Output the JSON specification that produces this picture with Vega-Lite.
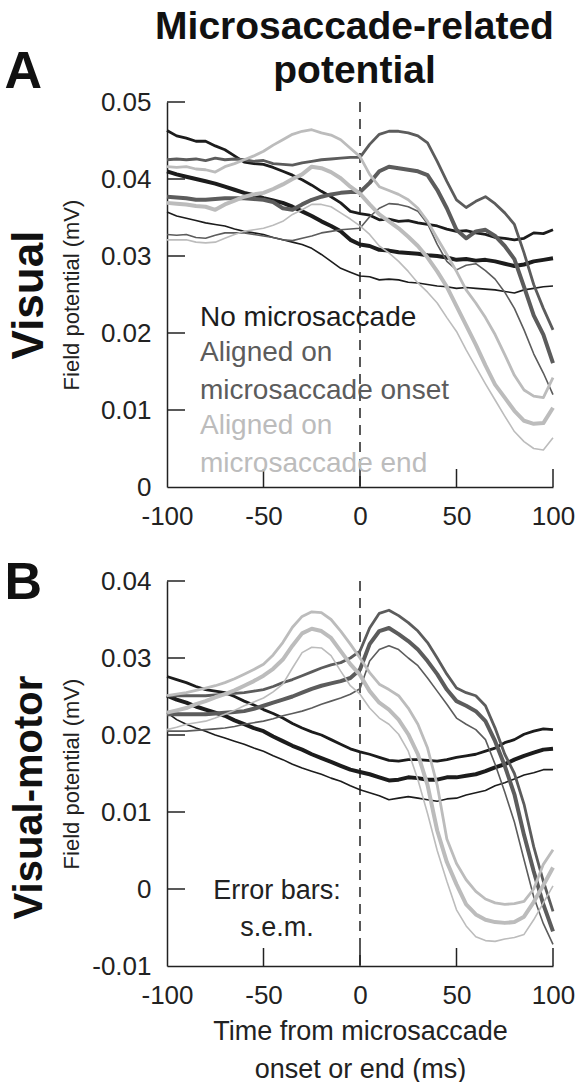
{
  "$schema": "https://vega.github.io/schema/vega-lite/v6.json",
  "background": "white",
  "padding": {"left": 4, "top": 7, "right": 0, "bottom": 0},
  "config": {
    "font": "Liberation Sans",
    "view": {"stroke": null},
    "axis": {"grid": false, "domainColor": "#222", "domainWidth": 1.5, "ticks": false, "tickSize": 0, "labelFont": "Liberation Sans", "labelFontSize": 26, "labelColor": "#222", "labelOverlap": false, "labelFlush": false, "labelBound": false, "titleFont": "Liberation Sans", "titleFontWeight": "normal", "titleColor": "#222"},
    "rule": {"color": "#222", "strokeWidth": 1.5}
  },
  "datasets": {
    "a": [
      {"c": "No microsaccade", "s": "u", "t": [-100,-95,-90,-85,-80,-75,-70,-65,-60,-55,-50,-45,-40,-35,-30,-25,-20,-15,-10,-5,0,5,10,15,20,25,30,35,40,45,50,55,60,65,70,75,80,85,90,95,100], "v": [0.0463,0.0456,0.0453,0.0449,0.0449,0.0443,0.0438,0.043,0.0422,0.042,0.0419,0.0415,0.041,0.0405,0.0399,0.0392,0.0384,0.0377,0.0369,0.0358,0.0355,0.0353,0.0347,0.0348,0.0345,0.0346,0.0343,0.0341,0.0339,0.0335,0.0332,0.0333,0.033,0.0328,0.0324,0.0323,0.0321,0.0323,0.033,0.0329,0.0334]},
      {"c": "No microsaccade", "s": "m", "t": [-100,-95,-90,-85,-80,-75,-70,-65,-60,-55,-50,-45,-40,-35,-30,-25,-20,-15,-10,-5,0,5,10,15,20,25,30,35,40,45,50,55,60,65,70,75,80,85,90,95,100], "v": [0.041,0.0406,0.0403,0.04,0.0397,0.0394,0.039,0.0386,0.0382,0.0379,0.0375,0.0372,0.0369,0.0364,0.0358,0.0352,0.0345,0.0339,0.0332,0.0321,0.0315,0.0313,0.0308,0.0307,0.0305,0.0304,0.0303,0.0301,0.03,0.0298,0.0295,0.0296,0.0294,0.0295,0.0293,0.029,0.0287,0.0289,0.0293,0.0295,0.0297]},
      {"c": "No microsaccade", "s": "l", "t": [-100,-95,-90,-85,-80,-75,-70,-65,-60,-55,-50,-45,-40,-35,-30,-25,-20,-15,-10,-5,0,5,10,15,20,25,30,35,40,45,50,55,60,65,70,75,80,85,90,95,100], "v": [0.0357,0.0352,0.0349,0.0346,0.0343,0.0341,0.0339,0.0335,0.0332,0.033,0.0328,0.0324,0.0321,0.0318,0.0315,0.031,0.0302,0.0293,0.0284,0.0279,0.0274,0.0273,0.0269,0.027,0.0269,0.0266,0.0265,0.0263,0.0261,0.026,0.0258,0.0259,0.0258,0.0257,0.0256,0.0254,0.0252,0.0256,0.0258,0.026,0.0261]},
      {"c": "Aligned on microsaccade onset", "s": "u", "t": [-100,-95,-90,-85,-80,-75,-70,-65,-60,-55,-50,-45,-40,-35,-30,-25,-20,-15,-10,-5,0,5,10,15,20,25,30,35,40,45,50,55,60,65,70,75,80,85,90,95,100], "v": [0.0425,0.0426,0.0425,0.0426,0.0424,0.0427,0.0425,0.0426,0.0425,0.0423,0.0424,0.042,0.0419,0.0418,0.0421,0.0423,0.0425,0.0426,0.0427,0.0428,0.0428,0.0445,0.0458,0.0462,0.0462,0.046,0.0456,0.0447,0.0423,0.0397,0.0373,0.0363,0.0371,0.0377,0.0368,0.0356,0.0341,0.0304,0.0263,0.0232,0.0204]},
      {"c": "Aligned on microsaccade onset", "s": "m", "t": [-100,-95,-90,-85,-80,-75,-70,-65,-60,-55,-50,-45,-40,-35,-30,-25,-20,-15,-10,-5,0,5,10,15,20,25,30,35,40,45,50,55,60,65,70,75,80,85,90,95,100], "v": [0.0377,0.0376,0.0375,0.0373,0.0373,0.0374,0.0375,0.0375,0.0375,0.0374,0.0373,0.037,0.0362,0.036,0.0367,0.0373,0.0377,0.038,0.0382,0.0383,0.0383,0.0395,0.041,0.0416,0.0414,0.0412,0.041,0.0405,0.0386,0.0362,0.0334,0.0323,0.0332,0.0334,0.0326,0.0313,0.0296,0.026,0.0223,0.0198,0.0161]},
      {"c": "Aligned on microsaccade onset", "s": "l", "t": [-100,-95,-90,-85,-80,-75,-70,-65,-60,-55,-50,-45,-40,-35,-30,-25,-20,-15,-10,-5,0,5,10,15,20,25,30,35,40,45,50,55,60,65,70,75,80,85,90,95,100], "v": [0.0328,0.0327,0.0328,0.0324,0.0323,0.0327,0.033,0.033,0.033,0.0328,0.0326,0.0324,0.0321,0.032,0.0323,0.0326,0.033,0.0332,0.0334,0.0335,0.0336,0.0351,0.0362,0.0368,0.0367,0.0364,0.0358,0.0342,0.0315,0.0293,0.0282,0.0288,0.029,0.0281,0.027,0.0253,0.0232,0.0204,0.0173,0.0148,0.012]},
      {"c": "Aligned on microsaccade end", "s": "u", "t": [-100,-95,-90,-85,-80,-75,-70,-65,-60,-55,-50,-45,-40,-35,-30,-25,-20,-15,-10,-5,0,5,10,15,20,25,30,35,40,45,50,55,60,65,70,75,80,85,90,95,100], "v": [0.0416,0.0415,0.0416,0.0413,0.0412,0.0409,0.0416,0.042,0.0425,0.043,0.0436,0.0444,0.0451,0.0458,0.0462,0.0464,0.046,0.0457,0.0451,0.044,0.0429,0.0406,0.039,0.0385,0.038,0.0373,0.0362,0.0345,0.0323,0.0302,0.028,0.0256,0.0239,0.022,0.0198,0.0172,0.0145,0.0126,0.0118,0.0116,0.0142]},
      {"c": "Aligned on microsaccade end", "s": "m", "t": [-100,-95,-90,-85,-80,-75,-70,-65,-60,-55,-50,-45,-40,-35,-30,-25,-20,-15,-10,-5,0,5,10,15,20,25,30,35,40,45,50,55,60,65,70,75,80,85,90,95,100], "v": [0.0369,0.0368,0.0367,0.0365,0.0364,0.036,0.0367,0.0372,0.0377,0.038,0.0382,0.0387,0.0393,0.04,0.0406,0.0416,0.0414,0.0409,0.0401,0.039,0.0381,0.0367,0.0354,0.0345,0.0336,0.0325,0.0313,0.0298,0.028,0.026,0.0235,0.021,0.0185,0.0158,0.0133,0.0116,0.0099,0.0086,0.0082,0.0083,0.0103]},
      {"c": "Aligned on microsaccade end", "s": "l", "t": [-100,-95,-90,-85,-80,-75,-70,-65,-60,-55,-50,-45,-40,-35,-30,-25,-20,-15,-10,-5,0,5,10,15,20,25,30,35,40,45,50,55,60,65,70,75,80,85,90,95,100], "v": [0.0321,0.0321,0.0321,0.0318,0.0317,0.0318,0.0323,0.0328,0.0332,0.0334,0.0336,0.034,0.0345,0.0354,0.036,0.0367,0.0367,0.0364,0.0356,0.0348,0.0339,0.0328,0.0313,0.0304,0.0293,0.028,0.0265,0.0253,0.0239,0.022,0.0202,0.0178,0.0156,0.0134,0.0113,0.0092,0.0072,0.0059,0.005,0.0048,0.0064]}
    ],
    "b": [
      {"c": "No microsaccade", "s": "u", "t": [-100,-95,-90,-85,-80,-75,-70,-65,-60,-55,-50,-45,-40,-35,-30,-25,-20,-15,-10,-5,0,5,10,15,20,25,30,35,40,45,50,55,60,65,70,75,80,85,90,95,100], "v": [0.0276,0.0272,0.0268,0.0263,0.0259,0.0257,0.0255,0.025,0.0244,0.0239,0.0233,0.0228,0.0222,0.0215,0.0209,0.0204,0.02,0.0194,0.0188,0.0182,0.0178,0.0175,0.0171,0.0167,0.0166,0.0168,0.0168,0.0167,0.0166,0.0168,0.0171,0.0173,0.0175,0.0179,0.0183,0.019,0.0194,0.0201,0.0205,0.0208,0.0207]},
      {"c": "No microsaccade", "s": "m", "t": [-100,-95,-90,-85,-80,-75,-70,-65,-60,-55,-50,-45,-40,-35,-30,-25,-20,-15,-10,-5,0,5,10,15,20,25,30,35,40,45,50,55,60,65,70,75,80,85,90,95,100], "v": [0.0251,0.0246,0.0242,0.0237,0.0233,0.0229,0.0225,0.0219,0.0214,0.0209,0.0205,0.0198,0.0192,0.0186,0.0181,0.0175,0.017,0.0165,0.016,0.0155,0.0152,0.0149,0.0145,0.0141,0.0142,0.0145,0.0144,0.0142,0.0142,0.0145,0.0145,0.0147,0.0149,0.0153,0.0158,0.0162,0.0168,0.0173,0.0177,0.0181,0.0182]},
      {"c": "No microsaccade", "s": "l", "t": [-100,-95,-90,-85,-80,-75,-70,-65,-60,-55,-50,-45,-40,-35,-30,-25,-20,-15,-10,-5,0,5,10,15,20,25,30,35,40,45,50,55,60,65,70,75,80,85,90,95,100], "v": [0.0229,0.022,0.0214,0.0209,0.0205,0.02,0.0196,0.0192,0.0188,0.0183,0.0179,0.0173,0.0168,0.0162,0.0157,0.0153,0.0149,0.0144,0.014,0.0134,0.0129,0.0125,0.0121,0.0116,0.0118,0.012,0.0118,0.0116,0.0114,0.0117,0.0118,0.0122,0.0125,0.0128,0.0134,0.0138,0.0143,0.0148,0.0151,0.0155,0.0155]},
      {"c": "Aligned on microsaccade onset", "s": "u", "t": [-100,-95,-90,-85,-80,-75,-70,-65,-60,-55,-50,-45,-40,-35,-30,-25,-20,-15,-10,-5,0,5,10,15,20,25,30,35,40,45,50,55,60,65,70,75,80,85,90,95,100], "v": [0.0251,0.0251,0.0251,0.0251,0.0251,0.0252,0.0253,0.0254,0.0255,0.0257,0.0259,0.0263,0.0268,0.0272,0.0277,0.0282,0.0287,0.0291,0.0294,0.03,0.0309,0.0339,0.0358,0.0362,0.0355,0.0346,0.0335,0.032,0.03,0.0279,0.0261,0.0255,0.0251,0.0238,0.0209,0.0175,0.015,0.011,0.0055,0.001,-0.0029]},
      {"c": "Aligned on microsaccade onset", "s": "m", "t": [-100,-95,-90,-85,-80,-75,-70,-65,-60,-55,-50,-45,-40,-35,-30,-25,-20,-15,-10,-5,0,5,10,15,20,25,30,35,40,45,50,55,60,65,70,75,80,85,90,95,100], "v": [0.0227,0.0227,0.0227,0.0227,0.0227,0.0228,0.0229,0.023,0.0231,0.0234,0.0238,0.0242,0.0246,0.025,0.0255,0.026,0.0264,0.0267,0.027,0.0274,0.0285,0.0318,0.0335,0.0339,0.0331,0.0322,0.0311,0.0296,0.0279,0.0259,0.0244,0.0238,0.0231,0.0218,0.0192,0.016,0.0123,0.007,0.0023,-0.002,-0.0055]},
      {"c": "Aligned on microsaccade onset", "s": "l", "t": [-100,-95,-90,-85,-80,-75,-70,-65,-60,-55,-50,-45,-40,-35,-30,-25,-20,-15,-10,-5,0,5,10,15,20,25,30,35,40,45,50,55,60,65,70,75,80,85,90,95,100], "v": [0.0205,0.0205,0.0205,0.0206,0.0207,0.0208,0.0209,0.0211,0.0214,0.0216,0.0218,0.0221,0.0225,0.0228,0.0231,0.0235,0.024,0.0244,0.0248,0.0253,0.026,0.0296,0.0311,0.0316,0.0311,0.03,0.029,0.0274,0.0257,0.024,0.0222,0.0214,0.0207,0.0194,0.0162,0.0126,0.0087,0.0038,-0.001,-0.0045,-0.0072]},
      {"c": "Aligned on microsaccade end", "s": "u", "t": [-100,-95,-90,-85,-80,-75,-70,-65,-60,-55,-50,-45,-40,-35,-30,-25,-20,-15,-10,-5,0,5,10,15,20,25,30,35,40,45,50,55,60,65,70,75,80,85,90,95,100], "v": [0.0251,0.0253,0.0255,0.0258,0.0261,0.0264,0.0268,0.0273,0.0279,0.0285,0.0292,0.0304,0.032,0.034,0.0354,0.036,0.0359,0.035,0.0335,0.0318,0.03,0.0281,0.0266,0.0259,0.0251,0.0235,0.0214,0.0183,0.0135,0.0065,0.0033,0.0012,-0.0003,-0.0013,-0.0018,-0.002,-0.0019,-0.0016,0,0.0032,0.0051]},
      {"c": "Aligned on microsaccade end", "s": "m", "t": [-100,-95,-90,-85,-80,-75,-70,-65,-60,-55,-50,-45,-40,-35,-30,-25,-20,-15,-10,-5,0,5,10,15,20,25,30,35,40,45,50,55,60,65,70,75,80,85,90,95,100], "v": [0.0229,0.0232,0.0235,0.024,0.0244,0.0249,0.0253,0.0258,0.0264,0.027,0.0277,0.0286,0.0298,0.0316,0.0332,0.0338,0.0335,0.0326,0.0309,0.0292,0.0278,0.0257,0.0242,0.0233,0.022,0.0201,0.0175,0.0135,0.0076,0.0035,0.0006,-0.002,-0.0033,-0.004,-0.0043,-0.0044,-0.0043,-0.0036,-0.0017,0.0005,0.0028]},
      {"c": "Aligned on microsaccade end", "s": "l", "t": [-100,-95,-90,-85,-80,-75,-70,-65,-60,-55,-50,-45,-40,-35,-30,-25,-20,-15,-10,-5,0,5,10,15,20,25,30,35,40,45,50,55,60,65,70,75,80,85,90,95,100], "v": [0.0207,0.021,0.0214,0.0216,0.0218,0.0222,0.0227,0.0232,0.0238,0.0243,0.0248,0.0256,0.0266,0.0287,0.0307,0.0314,0.0313,0.0303,0.0283,0.0264,0.0253,0.0235,0.0222,0.0214,0.0201,0.0179,0.0142,0.0098,0.005,0.001,-0.0027,-0.0048,-0.0062,-0.0067,-0.0068,-0.0065,-0.0063,-0.0059,-0.004,-0.0018,0.0004]}
    ]
  },
  "resolve": {"legend": {"color": "independent"}},
  "bounds": "flush",
  "spacing": 94,
  "vconcat": [
    {
      "width": 386,
      "height": 385,
      "resolve": {"axis": {"x": "independent", "y": "independent"}},
      "layer": [
        {"data": {"values": [{}]}, "mark": {"type": "rule", "strokeDash": [10, 7]}, "encoding": {"x": {"datum": 0, "type": "quantitative", "axis": null}}},
        {
          "data": {"name": "a"},
          "transform": [{"flatten": ["t", "v"]}],
          "mark": {"type": "line", "strokeJoin": "round"},
          "encoding": {
            "x": {"field": "t", "type": "quantitative", "scale": {"domain": [-100, 100], "nice": false}, "axis": {"orient": "bottom", "values": [-100, -50, 0, 50, 100], "labelExpr": "'' + datum.value", "title": null, "labelPadding": 16}},
            "y": {"field": "v", "type": "quantitative", "scale": {"domain": [0, 0.05], "nice": false, "zero": false}, "axis": {"orient": "left", "values": [0, 0.01, 0.02, 0.03, 0.04, 0.05], "labelExpr": "'' + datum.value", "labelPadding": 16, "title": "Field potential (mV)", "titleFontSize": 22, "titleX": -96, "titleY": 192.5, "titleAngle": -90, "titleAlign": "center", "titleBaseline": "middle"}},
            "color": {"field": "c", "type": "nominal", "scale": {"domain": ["No microsaccade", "Aligned on microsaccade onset", "Aligned on microsaccade end"], "range": ["#1c1c1c", "#5c5c5c", "#bcbcbc"]}, "legend": {"orient": "none", "legendX": 5, "legendY": 202, "title": null, "padding": 0, "symbolOpacity": 0, "symbolSize": 0, "symbolStrokeWidth": 0, "labelOffset": 0, "labelFont": "Liberation Sans", "labelFontSize": 28, "labelLimit": 600, "rowPadding": 7, "labelExpr": "datum.value == 'No microsaccade' ? datum.value : ['Aligned on', replace(datum.value, 'Aligned on ', '')]", "encode": {"labels": {"update": {"fill": {"signal": "datum.value == 'No microsaccade' ? '#1c1c1c' : datum.value == 'Aligned on microsaccade onset' ? '#5c5c5c' : '#bcbcbc'"}, "lineHeight": {"value": 38}}}}}},
            "strokeWidth": {"field": "s", "type": "nominal", "scale": {"domain": ["m", "u", "l"], "range": [4, 1.6, 1.6]}, "legend": null},
            "detail": {"field": "s"}
          }
        },
        {"data": {"values": [{}]}, "mark": "rule", "encoding": {"x": {"datum": -50, "type": "quantitative", "axis": null}, "y": {"datum": 0, "type": "quantitative", "axis": null}, "y2": {"datum": 0.00234}}},
        {"data": {"values": [{}]}, "mark": "rule", "encoding": {"x": {"datum": 0, "type": "quantitative", "axis": null}, "y": {"datum": 0, "type": "quantitative", "axis": null}, "y2": {"datum": 0.00234}}},
        {"data": {"values": [{}]}, "mark": "rule", "encoding": {"x": {"datum": 50, "type": "quantitative", "axis": null}, "y": {"datum": 0, "type": "quantitative", "axis": null}, "y2": {"datum": 0.00234}}},
        {"data": {"values": [{}]}, "mark": "rule", "encoding": {"x": {"datum": 100, "type": "quantitative", "axis": null}, "y": {"datum": 0, "type": "quantitative", "axis": null}, "y2": {"datum": 0.00234}}},
        {"data": {"values": [{}]}, "mark": "rule", "encoding": {"x": {"datum": -100, "type": "quantitative", "axis": null}, "x2": {"datum": -90.67}, "y": {"datum": 0.01, "type": "quantitative", "axis": null}}},
        {"data": {"values": [{}]}, "mark": "rule", "encoding": {"x": {"datum": -100, "type": "quantitative", "axis": null}, "x2": {"datum": -90.67}, "y": {"datum": 0.02, "type": "quantitative", "axis": null}}},
        {"data": {"values": [{}]}, "mark": "rule", "encoding": {"x": {"datum": -100, "type": "quantitative", "axis": null}, "x2": {"datum": -90.67}, "y": {"datum": 0.03, "type": "quantitative", "axis": null}}},
        {"data": {"values": [{}]}, "mark": "rule", "encoding": {"x": {"datum": -100, "type": "quantitative", "axis": null}, "x2": {"datum": -90.67}, "y": {"datum": 0.04, "type": "quantitative", "axis": null}}},
        {"data": {"values": [{}]}, "mark": "rule", "encoding": {"x": {"datum": -100, "type": "quantitative", "axis": null}, "x2": {"datum": -90.67}, "y": {"datum": 0.05, "type": "quantitative", "axis": null}}},
        {
          "data": {"values": [{}]},
          "mark": {"type": "point", "opacity": 0},
          "encoding": {
            "x": {"datum": -100, "type": "quantitative", "axis": {"orient": "top", "domain": false, "labels": false, "title": "A", "titleX": -163, "titleY": -15, "titleAngle": 0, "titleAlign": "left", "titleBaseline": "alphabetic", "titleFontSize": 52, "titleFontWeight": "bold", "titleColor": "#111"}},
            "y": {"datum": 0, "type": "quantitative", "axis": {"orient": "left", "domain": false, "labels": false, "title": "Visual", "titleX": -138, "titleY": 192.5, "titleAngle": -90, "titleAlign": "center", "titleBaseline": "middle", "titleFontSize": 44, "titleFontWeight": "bold", "titleColor": "#111"}}
          }
        },
        {
          "data": {"values": [{}]},
          "mark": {"type": "point", "opacity": 0},
          "encoding": {
            "x": {"datum": -100, "type": "quantitative", "axis": {"orient": "top", "domain": false, "labels": false, "title": ["Microsaccade-related", "potential"], "titleX": 187, "titleY": -64, "titleAngle": 0, "titleAlign": "center", "titleBaseline": "alphabetic", "titleLineHeight": 44, "titleFontSize": 39, "titleFontWeight": "bold", "titleColor": "#111"}},
            "y": {"datum": 0, "type": "quantitative", "axis": null}
          }
        }
      ]
    },
    {
      "width": 386,
      "height": 385,
      "resolve": {"axis": {"x": "independent", "y": "independent"}},
      "layer": [
        {"data": {"values": [{}]}, "mark": {"type": "rule", "strokeDash": [10, 7]}, "encoding": {"x": {"datum": 0, "type": "quantitative", "axis": null}}},
        {
          "data": {"name": "b"},
          "transform": [{"flatten": ["t", "v"]}],
          "mark": {"type": "line", "strokeJoin": "round"},
          "encoding": {
            "x": {"field": "t", "type": "quantitative", "scale": {"domain": [-100, 100], "nice": false}, "axis": {"orient": "bottom", "values": [-100, -50, 0, 50, 100], "labelExpr": "'' + datum.value", "labelPadding": 16, "title": ["Time from microsaccade", "onset or end (ms)"], "titleFontSize": 27, "titleLineHeight": 38, "titlePadding": 10}},
            "y": {"field": "v", "type": "quantitative", "scale": {"domain": [-0.01, 0.04], "nice": false, "zero": false}, "axis": {"orient": "left", "values": [-0.01, 0, 0.01, 0.02, 0.03, 0.04], "labelExpr": "'' + datum.value", "labelPadding": 16, "title": "Field potential (mV)", "titleFontSize": 22, "titleX": -96, "titleY": 192.5, "titleAngle": -90, "titleAlign": "center", "titleBaseline": "middle"}},
            "color": {"field": "c", "type": "nominal", "scale": {"domain": ["No microsaccade", "Aligned on microsaccade onset", "Aligned on microsaccade end"], "range": ["#1c1c1c", "#5c5c5c", "#bcbcbc"]}, "legend": null},
            "strokeWidth": {"field": "s", "type": "nominal", "scale": {"domain": ["m", "u", "l"], "range": [4, 1.6, 1.6]}, "legend": null},
            "detail": {"field": "s"}
          }
        },
        {
          "data": {"values": [{}]},
          "mark": {"type": "text", "text": ["Error bars:", "s.e.m."], "fontSize": 27, "lineHeight": 37, "color": "#222", "align": "center", "baseline": "middle"},
          "encoding": {"x": {"datum": -43, "type": "quantitative", "axis": null}, "y": {"datum": -0.0003, "type": "quantitative", "axis": null}}
        },
        {"data": {"values": [{}]}, "mark": "rule", "encoding": {"x": {"datum": -50, "type": "quantitative", "axis": null}, "y": {"datum": -0.01, "type": "quantitative", "axis": null}, "y2": {"datum": -0.00766}}},
        {"data": {"values": [{}]}, "mark": "rule", "encoding": {"x": {"datum": 0, "type": "quantitative", "axis": null}, "y": {"datum": -0.01, "type": "quantitative", "axis": null}, "y2": {"datum": -0.00766}}},
        {"data": {"values": [{}]}, "mark": "rule", "encoding": {"x": {"datum": 50, "type": "quantitative", "axis": null}, "y": {"datum": -0.01, "type": "quantitative", "axis": null}, "y2": {"datum": -0.00766}}},
        {"data": {"values": [{}]}, "mark": "rule", "encoding": {"x": {"datum": 100, "type": "quantitative", "axis": null}, "y": {"datum": -0.01, "type": "quantitative", "axis": null}, "y2": {"datum": -0.00766}}},
        {"data": {"values": [{}]}, "mark": "rule", "encoding": {"x": {"datum": -100, "type": "quantitative", "axis": null}, "x2": {"datum": -90.67}, "y": {"datum": 0, "type": "quantitative", "axis": null}}},
        {"data": {"values": [{}]}, "mark": "rule", "encoding": {"x": {"datum": -100, "type": "quantitative", "axis": null}, "x2": {"datum": -90.67}, "y": {"datum": 0.01, "type": "quantitative", "axis": null}}},
        {"data": {"values": [{}]}, "mark": "rule", "encoding": {"x": {"datum": -100, "type": "quantitative", "axis": null}, "x2": {"datum": -90.67}, "y": {"datum": 0.02, "type": "quantitative", "axis": null}}},
        {"data": {"values": [{}]}, "mark": "rule", "encoding": {"x": {"datum": -100, "type": "quantitative", "axis": null}, "x2": {"datum": -90.67}, "y": {"datum": 0.03, "type": "quantitative", "axis": null}}},
        {"data": {"values": [{}]}, "mark": "rule", "encoding": {"x": {"datum": -100, "type": "quantitative", "axis": null}, "x2": {"datum": -90.67}, "y": {"datum": 0.04, "type": "quantitative", "axis": null}}},
        {
          "data": {"values": [{}]},
          "mark": {"type": "point", "opacity": 0},
          "encoding": {
            "x": {"datum": -100, "type": "quantitative", "axis": {"orient": "top", "domain": false, "labels": false, "title": "B", "titleX": -163, "titleY": 17, "titleAngle": 0, "titleAlign": "left", "titleBaseline": "alphabetic", "titleFontSize": 52, "titleFontWeight": "bold", "titleColor": "#111"}},
            "y": {"datum": 0, "type": "quantitative", "axis": {"orient": "left", "domain": false, "labels": false, "title": "Visual-motor", "titleX": -138, "titleY": 216, "titleAngle": -90, "titleAlign": "center", "titleBaseline": "middle", "titleFontSize": 40, "titleFontWeight": "bold", "titleColor": "#111"}}
          }
        }
      ]
    }
  ]
}
